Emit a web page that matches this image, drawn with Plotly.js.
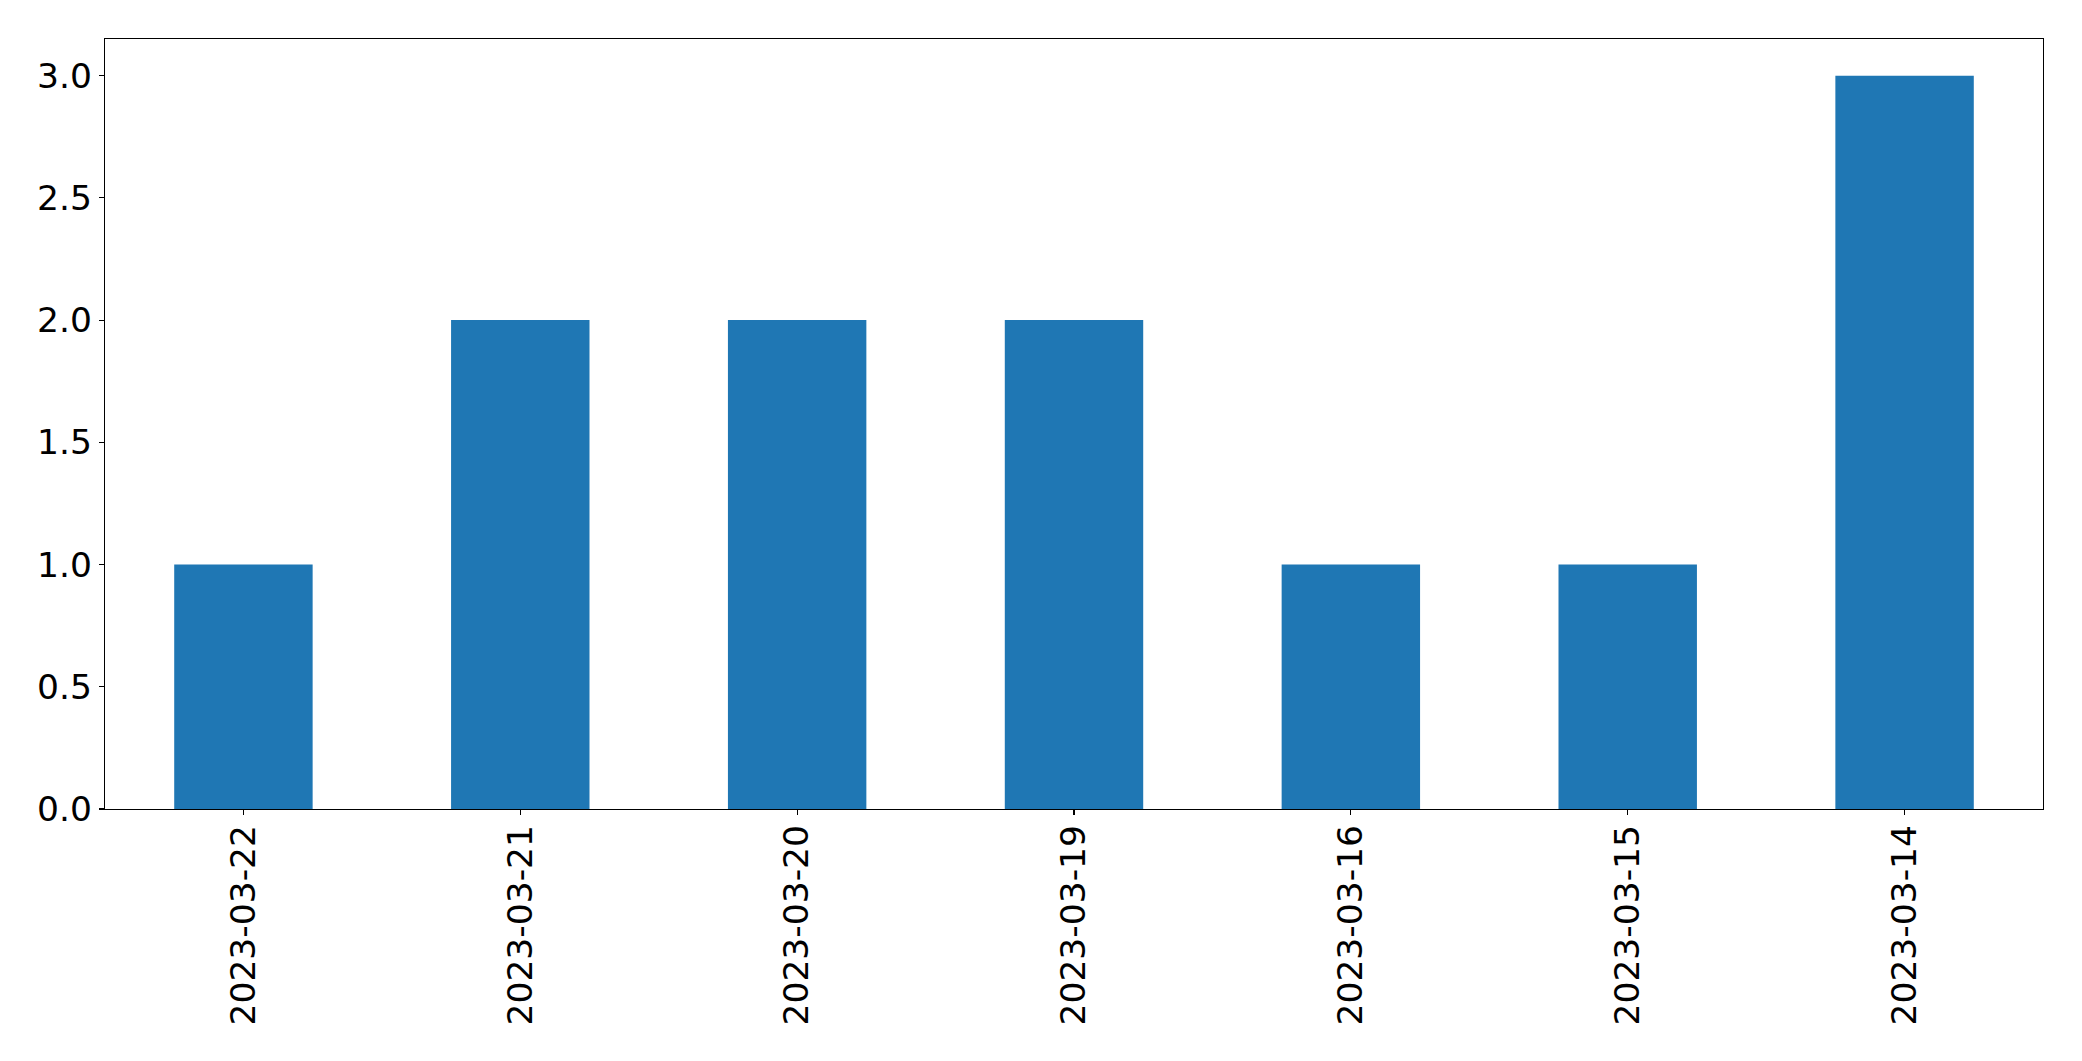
<!DOCTYPE html>
<html>
<head>
<meta charset="utf-8">
<script src="https://cdn.plot.ly/plotly-3.0.1.min.js"></script>
<style>html,body{margin:0;padding:0;background:#fff;}#chart{width:2082px;height:1061px;}</style>
</head>
<body>
<div id="chart"></div>
<script>
const dates = ["2023-03-22", "2023-03-21", "2023-03-20", "2023-03-19", "2023-03-16", "2023-03-15", "2023-03-14"];
const counts = [1, 2, 2, 2, 1, 1, 3];
const yTicks = [0, 0.5, 1, 1.5, 2, 2.5, 3];

const font = {family: "DejaVu Sans", size: 34.5, color: "#000"};
const axisCommon = {
  showline: true, linecolor: "#000", linewidth: 1.2, mirror: true,
  ticks: "outside", ticklen: 5, tickwidth: 1.2, tickcolor: "#000",
  showgrid: false, zeroline: false, tickfont: font
};

Plotly.newPlot("chart", [{
  type: "bar", x: dates, y: counts, width: 0.5,
  marker: {color: "#1f77b4", line: {width: 0}}
}], {
  width: 2082, height: 1061,
  margin: {l: 105, r: 39, t: 39, b: 252, pad: 0},
  paper_bgcolor: "#fff", plot_bgcolor: "#fff",
  showlegend: false,
  xaxis: Object.assign({}, axisCommon, {type: "category", range: [-0.5, 6.5], tickangle: -90, ticklabelstandoff: -4}),
  yaxis: Object.assign({}, axisCommon, {range: [0, 3.15], tickmode: "array", tickvals: yTicks,
    ticktext: yTicks.map(v => v.toFixed(1))})
}, {displayModeBar: false, staticPlot: true});
</script>
</body>
</html>
